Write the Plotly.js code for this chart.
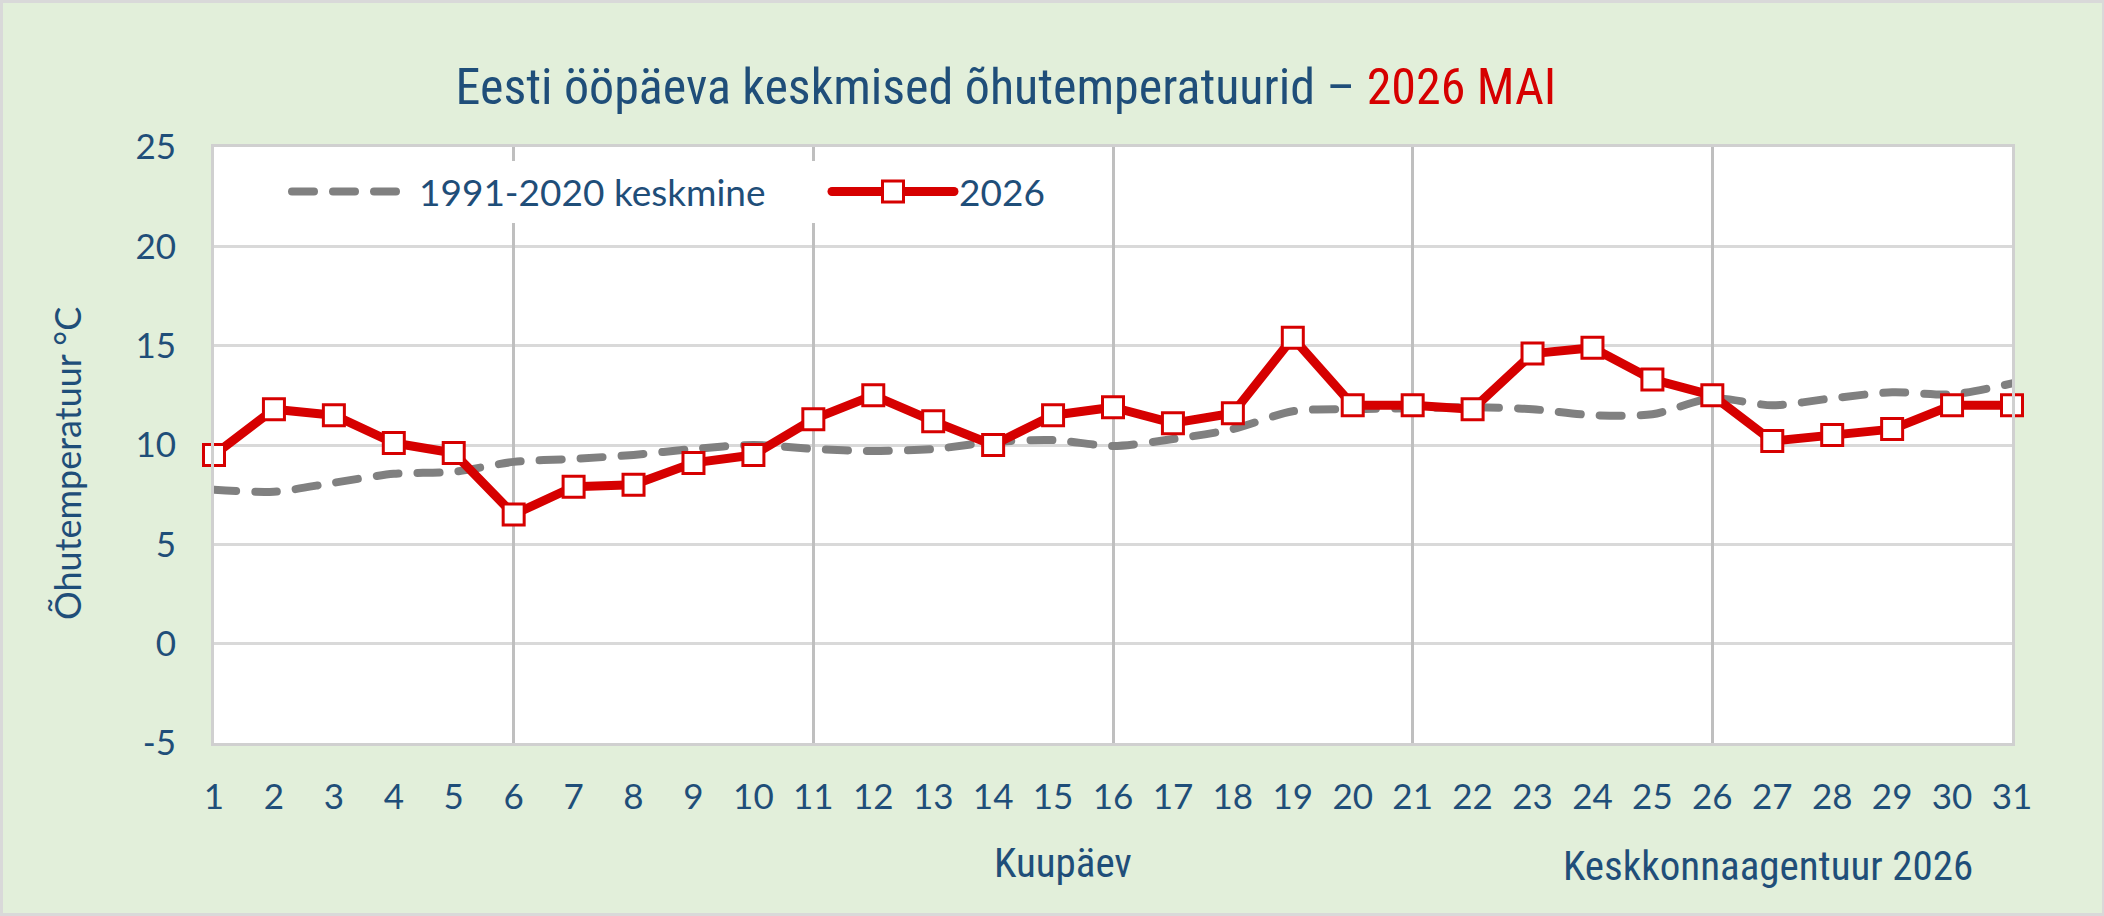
<!DOCTYPE html>
<html>
<head>
<meta charset="utf-8">
<script src="https://cdn.plot.ly/plotly-3.0.1.min.js"></script>
<style>
  html, body { margin: 0; padding: 0; background: #E2EFDA; }
  #wrap { position: relative; width: 2104px; height: 916px; background: #E2EFDA; }
  #chart { width: 2104px; height: 916px; }
  #wrap::after { content: ""; position: absolute; left: 0; top: 0; right: 0; bottom: 0;
    border-style: solid; border-color: #D9D9D9; border-width: 3px 2px 3px 3px; pointer-events: none; }
  .js-line { stroke-linecap: round; stroke-linejoin: round; }
  g.legend .legendlines path { stroke-width: 8px !important; }
  g.legend2 .legendlines path { stroke-width: 9px !important; }
  g.legend2 .legendpoints path.scatterpts { d: path("M10.5,10.5H-10.5V-10.5H10.5Z"); stroke-width: 3px !important; }
</style>
</head>
<body>
<div id="wrap"><div id="chart"></div></div>
<script>
// ---- data ----
const days = [1,2,3,4,5,6,7,8,9,10,11,12,13,14,15,16,17,18,19,20,21,22,23,24,25,26,27,28,29,30,31];
const normal19912020 = [7.75,7.65,8.1,8.55,8.65,9.15,9.3,9.5,9.8,10.0,9.8,9.7,9.8,10.15,10.25,9.95,10.3,10.8,11.7,11.8,11.85,11.9,11.8,11.5,11.55,12.35,12.0,12.35,12.65,12.55,13.1];
const temps2026 = [9.5,11.8,11.5,10.1,9.6,6.5,7.9,8.0,9.1,9.5,11.3,12.5,11.2,10.0,11.5,11.9,11.1,11.6,15.4,12.0,12.0,11.8,14.6,14.9,13.3,12.5,10.2,10.5,10.8,12.0,12.0];
const seriesNames = ["1991-2020 keskmine", "2026"];
const yTickVals = [-5,0,5,10,15,20,25];
const yTickText = ["-5","0","5","10","15","20","25"];

const titleMain = "Eesti ööpäeva keskmised õhutemperatuurid";
const titleRed = "2026 MAI";
const yTitle = "Õhutemperatuur °C";
const xTitle = "Kuupäev";
const sourceText = "Keskkonnaagentuur 2026";

// ---- layout helpers ----
const W = 2104, H = 916;
const M = {l: 214, r: 92, t: 147, b: 173, pad: 0, autoexpand: false};
const px2x = px => (px - M.l) / (W - M.l - M.r);
const px2y = py => (H - M.b - py) / (H - M.t - M.b);

const BLUE = "#1F4E79";
const RED = "#D60000";
const TXT = "Lato, 'Open Sans', sans-serif";
const NARROW = "'Liberation Sans Narrow', 'Roboto Condensed', 'DejaVu Sans Condensed', sans-serif";

const traces = [
  {
    x: days, y: normal19912020, name: seriesNames[0], type: "scatter", mode: "lines",
    line: {color: "#808080", width: 8, dash: "22px,19px", shape: "spline", smoothing: 0.8},
    legend: "legend"
  },
  {
    x: days, y: temps2026, name: seriesNames[1], type: "scatter", mode: "lines+markers",
    line: {color: RED, width: 9},
    marker: {symbol: "square", size: 21, color: "#FFFFFF", line: {color: RED, width: 3}},
    cliponaxis: false,
    legend: "legend2"
  },
  {
    // helper trace on overlay axis for 5-day vertical gridlines
    x: days, y: temps2026, xaxis: "x2", type: "scatter", mode: "none",
    showlegend: false, hoverinfo: "skip"
  }
];

const legendCommon = {
  orientation: "h",
  xref: "container", yref: "container",
  y: 1 - 192 / H, xanchor: "left", yanchor: "middle",
  bgcolor: "#FFFFFF", borderwidth: 0,
  font: {family: TXT, size: 37, color: BLUE},
  itemwidth: 122,
  itemclick: false, itemdoubleclick: false
};

const layout = {
  width: W, height: H,
  paper_bgcolor: "rgba(0,0,0,0)",
  plot_bgcolor: "#FFFFFF",
  margin: M,
  showlegend: true,
  title: {
    text: titleMain + " – " + '<span style="color:' + RED + '">' + titleRed + '</span>',
    font: {family: NARROW, size: 50, color: BLUE},
    xref: "container", yref: "container",
    x: 1006 / W, y: 1 - 86 / H, xanchor: "center", yanchor: "middle"
  },
  xaxis: {
    range: [1, 31], tickmode: "array", tickvals: days, ticktext: days.map(String),
    showgrid: false, zeroline: false,
    showline: true, mirror: true, linecolor: "#D0D0D0", linewidth: 3,
    ticks: "", ticklabelstandoff: 21,
    tickfont: {family: TXT, size: 35, color: BLUE},
    fixedrange: true
  },
  xaxis2: {
    overlaying: "x", matches: "x", range: [1, 31], tick0: 1, dtick: 5,
    showgrid: true, gridcolor: "#BFBFBF", gridwidth: 3,
    showticklabels: false, ticks: "", zeroline: false, showline: false,
    layer: "below traces"
  },
  yaxis: {
    range: [-5, 25], tickmode: "array", tickvals: yTickVals, ticktext: yTickText,
    showgrid: true, gridcolor: "#D9D9D9", gridwidth: 3, zeroline: false,
    showline: true, mirror: true, linecolor: "#D0D0D0", linewidth: 3,
    ticks: "", ticklabelstandoff: 28,
    tickfont: {family: TXT, size: 35, color: BLUE},
    fixedrange: true
  },
  legend: Object.assign({}, legendCommon, {x: 287 / W, entrywidth: 400, entrywidthmode: "pixels"}),
  legend2: Object.assign({}, legendCommon, {x: 827 / W}),
  annotations: [
    {text: yTitle, xref: "paper", yref: "paper", x: px2x(67), y: px2y(464),
     textangle: -90, showarrow: false, xanchor: "center", yanchor: "middle",
     font: {family: TXT, size: 36, color: BLUE}},
    {text: xTitle, xref: "paper", yref: "paper", x: px2x(1063), y: px2y(863),
     showarrow: false, xanchor: "center", yanchor: "middle",
     font: {family: NARROW, size: 41, color: BLUE}},
    {text: sourceText, xref: "paper", yref: "paper", x: px2x(1768), y: px2y(866),
     showarrow: false, xanchor: "center", yanchor: "middle",
     font: {family: NARROW, size: 41, color: BLUE}}
  ]
};

Plotly.newPlot("chart", traces, layout, {displayModeBar: false, responsive: false});
</script>
</body>
</html>
